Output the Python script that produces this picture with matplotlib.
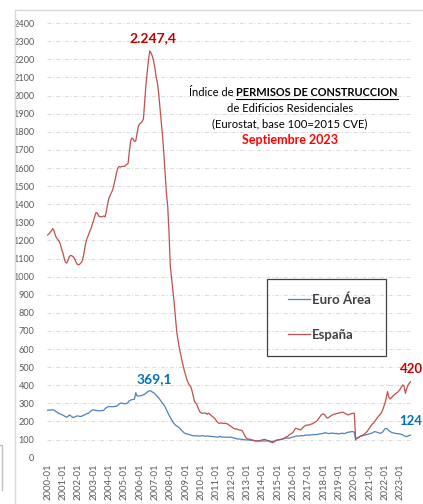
import matplotlib.pyplot as plt
import matplotlib.dates as mdates
from matplotlib.lines import Line2D
from matplotlib.patches import Rectangle
import pandas as pd

plt.rcParams['font.family'] = ['Lato', 'DejaVu Sans']

# indice mensual, 2000-01 .. 2023-09
espana = [
    1230, 1235, 1245, 1252, 1265, 1255, 1230, 1213, 1205, 1195, 1180, 1150,
    1130, 1100, 1080, 1075, 1090, 1110, 1117, 1115, 1110, 1100, 1085, 1070,
    1065, 1068, 1075, 1083, 1110, 1150, 1190, 1213, 1230, 1250, 1265, 1290,
    1310, 1335, 1354, 1350, 1335, 1332, 1330, 1332, 1335, 1330, 1360, 1400,
    1434, 1450, 1465, 1480, 1510, 1540, 1575, 1600, 1609, 1605, 1608, 1609,
    1609, 1615, 1620, 1625, 1690, 1750, 1766, 1760, 1747, 1750, 1790, 1830,
    1845, 1850, 1857, 1870, 1960, 2060, 2130, 2200, 2247.4, 2235, 2217, 2190,
    2150, 2100, 2070, 2010, 1930, 1850, 1780, 1680, 1570, 1460, 1388, 1250,
    1060, 990, 930, 860, 780, 700, 651, 610, 575, 540, 510, 480,
    455, 430, 415, 400, 393, 370, 340, 310, 301, 290, 270, 255,
    248, 245, 245, 247, 245, 240, 245, 240, 232, 227, 222, 215,
    205, 195, 190, 190, 192, 190, 188, 190, 188, 185, 180, 175,
    170, 165, 160, 158, 159, 155, 153, 152, 150, 140, 125, 112,
    105, 103, 102, 100, 98, 96, 94, 93, 92, 92, 94, 96,
    98, 100, 101, 98, 95, 92, 88, 85, 83, 86, 90, 95,
    97, 98, 100, 101, 103, 107, 112, 115, 118, 125, 130, 134,
    140, 150, 162, 160, 158, 155, 153, 160, 168, 175, 178, 180,
    180, 182, 185, 186, 190, 195, 199, 205, 215, 225, 235, 240,
    241, 235, 225, 218, 222, 228, 232, 236, 240, 241, 243, 245,
    247, 248, 250, 251, 248, 244, 240, 236, 238, 242, 244, 245,
    245, 107, 108, 110, 115, 120, 122, 125, 130, 138, 144, 155,
    165, 175, 185, 190, 200, 210, 220, 230, 236, 245, 260, 280,
    301, 330, 365, 335, 324, 330, 338, 345, 352, 356, 362, 370,
    380, 392, 402, 395, 356, 380, 400, 410, 420.3,
]

euro = [
    262, 262, 263, 264, 264, 262, 258, 252, 248, 243, 241, 238,
    234, 230, 226, 223, 228, 236, 232, 226, 221, 224, 228, 230,
    230, 228, 227, 230, 234, 236, 241, 243, 246, 252, 258, 264,
    264, 262, 260, 260, 259, 258, 260, 260, 262, 270, 276, 280,
    282, 282, 281, 282, 282, 283, 284, 290, 296, 301, 301, 299,
    298, 297, 300, 305, 315, 318, 320, 322, 323, 359, 341, 340,
    341, 342, 345, 347, 350, 356, 362, 367, 369.1, 368, 362, 359,
    352, 345, 337, 330, 320, 310, 300, 291, 280, 265, 250, 235,
    222, 210, 198, 188, 180, 175, 171, 165, 158, 150, 143, 136,
    133, 131, 129, 127, 125, 123, 121, 120, 121, 120, 120, 119,
    120, 121, 120, 120, 118, 120, 119, 118, 117, 117, 116, 115,
    114, 114, 113, 118, 114, 113, 114, 113, 113, 112, 113, 113,
    112, 110, 108, 106, 104, 103, 103, 102, 101, 100, 99, 98,
    98, 98, 97, 96, 95, 94, 93, 92, 92, 93, 92, 91,
    92, 93, 92, 92, 92, 93, 92, 90, 88, 91, 94, 96,
    98, 99, 100, 101, 103, 105, 107, 108, 108, 107, 110, 112,
    114, 116, 118, 120, 119, 120, 121, 122, 120, 123, 124, 125,
    124, 125, 125, 126, 127, 128, 127, 128, 130, 131, 132, 133,
    135, 138, 136, 134, 133, 134, 136, 135, 134, 133, 134, 131,
    131, 133, 134, 135, 132, 134, 138, 140, 141, 142, 144, 144,
    140, 98, 105, 110, 115, 118, 120, 122, 124, 126, 128, 130,
    132, 134, 136, 140, 144, 142, 140, 138, 134, 136, 140, 150,
    160, 162, 158, 149, 145, 140, 138, 136, 134, 133, 132, 131,
    130, 128, 125, 122, 118, 116, 119, 122, 124.3,
]

fechas = pd.date_range('2000-01-01', periods=len(espana), freq='MS')

W, H = 423, 504
fig = plt.figure(figsize=(4.23, 5.04), dpi=100)
ax = fig.add_axes([0.111, 0.092, 0.861, 0.862])

ax.plot(fechas, euro, color='#4f81bd', lw=0.9, label='Euro Área')
ax.plot(fechas, espana, color='#c0504d', lw=0.9, label='España')

ax.set_ylim(0, 2400)
ax.set_yticks(range(0, 2401, 100))
ax.set_xlim(fechas[0] - pd.Timedelta(days=15), fechas[-1] + pd.Timedelta(days=15))
ax.xaxis.set_major_locator(mdates.YearLocator(1, month=1))
ax.xaxis.set_major_formatter(mdates.DateFormatter('%Y-%m'))
ax.tick_params(axis='x', rotation=90, length=0, labelsize=6.8, colors='#595959', pad=4)
ax.tick_params(axis='y', length=0, labelsize=6.6, colors='#595959', pad=9)
ax.grid(axis='y', color='#d9d9d9', lw=0.7, linestyle=(0, (4, 2, 1, 2)))
for s in ax.spines.values():
    s.set_visible(False)

# etiquetas de valores
ax.annotate('2.247,4', xy=(fechas[80], 2247.4), xytext=(2, 5), textcoords='offset points',
            ha='center', va='bottom', color='#c00000', fontsize=10, fontweight='bold')
ax.annotate('369,1', xy=(fechas[80], 369.1), xytext=(3, 4), textcoords='offset points',
            ha='center', va='bottom', color='#0070c0', fontsize=10, fontweight='bold')
ax.annotate('420', xy=(fechas[-1], 420.3), xytext=(-8, 5), textcoords='offset points',
            ha='left', va='bottom', color='#c00000', fontsize=9.5, fontweight='bold',
            annotation_clip=False)
ax.annotate('124', xy=(fechas[-1], 124.3), xytext=(-8, 6), textcoords='offset points',
            ha='left', va='bottom', color='#0070c0', fontsize=9.5, fontweight='bold',
            annotation_clip=False)

# texto del titulo
fig.text(236 / W, 1 - 93 / H, 'Índice de ', ha='right', va='center', fontsize=8, color='#000000')
t = fig.text(236 / W, 1 - 93 / H, 'PERMISOS DE CONSTRUCCION', ha='left', va='center',
             fontsize=7.9, fontweight='bold', color='#000000')
fig.text(290 / W, 1 - 109 / H, 'de Edificios Residenciales', ha='center', va='center',
         fontsize=8.1, color='#000000')
fig.text(290 / W, 1 - 124 / H, '(Eurostat, base 100=2015 CVE)', ha='center', va='center',
         fontsize=8.1, color='#000000')
fig.text(290 / W, 1 - 140 / H, 'Septiembre 2023', ha='center', va='center',
         fontsize=9, fontweight='bold', color='#ff0000')

fig.canvas.draw()
bb = t.get_window_extent().transformed(fig.transFigure.inverted())
fig.add_artist(Line2D([bb.x0, bb.x1], [bb.y0 - 0.001, bb.y0 - 0.001], color='#000000', lw=0.8))

# leyenda con su recuadro
leg = fig.legend(loc='center left', bbox_to_anchor=(288 / W, 1 - 317 / H), fontsize=9.5,
                 frameon=False, borderpad=0, handlelength=1.67, handletextpad=0.15,
                 labelspacing=1.75, borderaxespad=0)
for txt in leg.get_texts():
    txt.set_color('#404040')
    txt.set_fontweight('bold')
fig.add_artist(Rectangle((267 / W, 1 - 356 / H), 119 / W, 77 / H, transform=fig.transFigure,
                         fill=False, edgecolor='#404040', lw=0.9))

# marco del grafico
fig.add_artist(Line2D([15 / W, 1], [1 - 10 / H, 1 - 10 / H], color='#d9d9d9', lw=1))
fig.add_artist(Line2D([15 / W, 15 / W], [0, 1 - 10 / H], color='#d9d9d9', lw=1))
fig.add_artist(Line2D([0, 2 / W, 2 / W], [1 - 445 / H, 1 - 445 / H, 1 - 490 / H], color='#bfbfbf', lw=1))

fig.savefig('out.png', dpi=100)
